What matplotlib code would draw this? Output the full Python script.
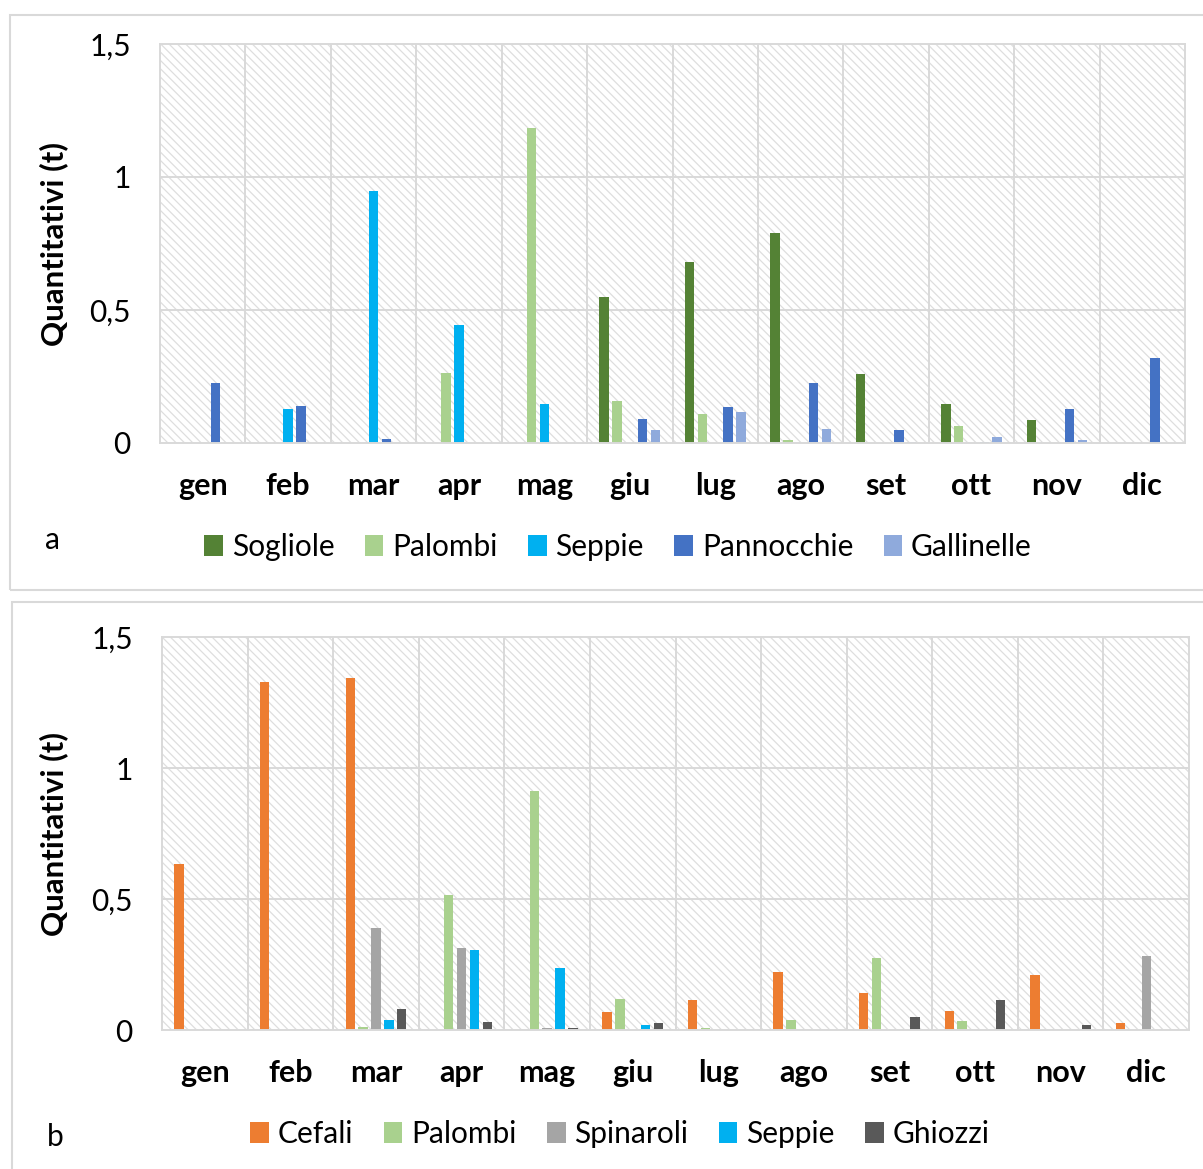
import matplotlib
matplotlib.use("Agg")
import matplotlib.pyplot as plt
import numpy as np
from matplotlib.patches import Patch, Rectangle
from matplotlib.ticker import FuncFormatter

months = ["gen", "feb", "mar", "apr", "mag", "giu", "lug", "ago", "set", "ott", "nov", "dic"]

# Panel a
series_a = ["Sogliole", "Palombi", "Seppie", "Pannocchie", "Gallinelle"]
sogliole_a   = [0, 0, 0, 0, 0, 0.549, 0.679, 0.788, 0.258, 0.145, 0.085, 0]
palombi_a    = [0, 0, 0, 0.263, 1.184, 0.158, 0.109, 0.010, 0, 0.065, 0, 0]
seppie_a     = [0, 0.128, 0.947, 0.444, 0.147, 0, 0, 0, 0, 0, 0, 0]
pannocchie_a = [0.225, 0.139, 0.015, 0, 0, 0.090, 0.134, 0.227, 0.049, 0.004, 0.127, 0.318]
gallinelle_a = [0, 0, 0, 0, 0, 0.049, 0.117, 0.053, 0.003, 0.022, 0.011, 0]
colors_a = ["#548235", "#A9D18E", "#00B0F0", "#4472C4", "#8FAADC"]

# Panel b
series_b = ["Cefali", "Palombi", "Spinaroli", "Seppie", "Ghiozzi"]
cefali_b    = [0.633, 1.329, 1.342, 0, 0, 0.067, 0.114, 0.223, 0.143, 0.073, 0.211, 0.025]
palombi_b   = [0, 0, 0.013, 0.514, 0.911, 0.119, 0.006, 0.040, 0.275, 0.035, 0, 0]
spinaroli_b = [0, 0, 0.388, 0.313, 0.009, 0, 0, 0, 0, 0, 0, 0.284]
seppie_b    = [0, 0, 0.038, 0.306, 0.236, 0.020, 0, 0, 0, 0, 0, 0]
ghiozzi_b   = [0, 0, 0.081, 0.032, 0.008, 0.025, 0, 0, 0.048, 0.113, 0.020, 0]
colors_b = ["#ED7D31", "#A9D18E", "#A5A5A5", "#00B0F0", "#595959"]

FONT = "Lato"
FS = 21.5
GRID = "#D9D9D9"
plt.rcParams["font.family"] = [FONT, "DejaVu Sans"]
plt.rcParams["hatch.linewidth"] = 0.9
plt.rcParams["hatch.color"] = "#DEDEDE"

W, H = 1203, 1169
fig = plt.figure(figsize=(W / 100, H / 100), dpi=100)


def fx(px):
    return px / W


def fy(py):
    return 1 - py / H


def panel(rect, data, names, colors, legend_x, legend_y, letter, letter_xy):
    ax = fig.add_axes(rect)
    ax.patch.set_facecolor("white")
    ax.patch.set_hatch("\\\\\\\\")
    ax.patch.set_edgecolor("#DEDEDE")
    ax.patch.set_linewidth(0)
    x = np.arange(len(months))
    slot = 0.15
    bw = 0.11
    handles = []
    for i, (vals, name, c) in enumerate(zip(data, names, colors)):
        ax.bar(x + (i - 2) * slot, vals, width=bw, color=c, zorder=3, linewidth=0)
        handles.append(Patch(facecolor=c, edgecolor="none", label=name))
    ax.set_xlim(-0.5, 11.5)
    ax.set_ylim(0, 1.5)
    ax.set_yticks([0, 0.5, 1, 1.5])
    ax.yaxis.set_major_formatter(FuncFormatter(lambda v, p: ("%g" % v).replace(".", ",")))
    ax.set_xticks(x)
    ax.set_xticklabels(months, fontweight="bold", fontsize=FS + 0.5)
    ax.tick_params(axis="y", labelsize=FS, length=0, pad=21)
    ax.tick_params(axis="x", length=0, pad=21)
    for xb in np.arange(0.5, 11.5, 1):
        ax.axvline(xb, color=GRID, lw=1.4, zorder=1)
    for yb in [0.5, 1.0]:
        ax.axhline(yb, color=GRID, lw=1.4, zorder=1)
    for s in ax.spines.values():
        s.set_color(GRID)
        s.set_linewidth(1.4)
        s.set_zorder(4)
    b = ax.get_position()
    fig.text(fx(54), (b.y0 + b.y1) / 2, "Quantitativi (t)", rotation=90,
             ha="center", va="center", fontsize=FS + 1, fontweight="bold")
    fig.legend(handles=handles, loc="center", bbox_to_anchor=(fx(legend_x), legend_y),
               ncol=5, frameon=False, fontsize=FS, handlelength=0.62, handleheight=0.66,
               handletextpad=0.3, columnspacing=1.02)
    fig.text(fx(letter_xy[0]), fy(letter_xy[1]), letter, ha="center", va="center", fontsize=FS)
    return ax


panel([fx(160), fy(443), fx(1185) - fx(160), fy(44) - fy(443)],
      [sogliole_a, palombi_a, seppie_a, pannocchie_a, gallinelle_a],
      series_a, colors_a, 618, fy(547), "a", (52, 540))
panel([fx(162), fy(1030), fx(1189) - fx(162), fy(637) - fy(1030)],
      [cefali_b, palombi_b, spinaroli_b, seppie_b, ghiozzi_b],
      series_b, colors_b, 620, fy(1134), "b", (55, 1137))

# panel borders
fig.add_artist(Rectangle((fx(10), fy(590)), fx(1300), fy(15) - fy(590), transform=fig.transFigure,
                         fill=False, edgecolor=GRID, lw=1.5, zorder=0))
fig.add_artist(Rectangle((fx(11.5), fy(1300)), fx(1300), fy(601.5) - fy(1300), transform=fig.transFigure,
                         fill=False, edgecolor=GRID, lw=1.5, zorder=0))

fig.savefig("out.png", dpi=100)
